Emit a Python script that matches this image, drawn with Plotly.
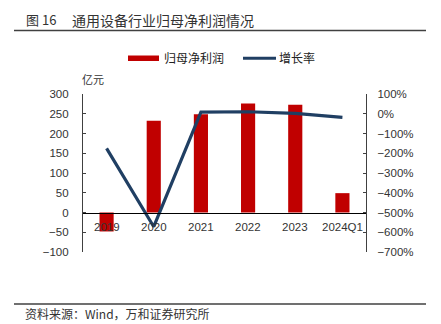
import plotly.graph_objects as go

# 通用设备行业归母净利润（亿元）及同比增长率（%）
categories = ["2019", "2020", "2021", "2022", "2023", "2024Q1"]
net_profit = [-48, 232, 249, 276, 273, 49]
growth_pct = [-175, -572, 8, 10, 2, -18]

W, H = 441, 324
L, R, T, B = 83, 366, 94, 252  # plot area in pixels

BAR_RED = "#C00000"
LINE_NAVY = "#203F63"
AXIS_COL = "#404040"
CJK = "Noto Sans CJK SC"
LATIN = "Liberation Sans, Arial, sans-serif"


def px_x(px):
    return (px - L) / (R - L)


def px_y(py):
    return (B - py) / (B - T)


fig = go.Figure()
fig.add_trace(go.Bar(
    x=categories, y=net_profit, name="归母净利润",
    marker=dict(color=BAR_RED, line=dict(width=0)),
    width=0.3, yaxis="y", showlegend=False,
))
fig.add_trace(go.Scatter(
    x=categories, y=growth_pct, name="增长率", mode="lines",
    line=dict(color=LINE_NAVY, width=3.2), yaxis="y2", showlegend=False,
))

fig.update_layout(
    width=W, height=H,
    margin=dict(l=L, r=W - R, t=T, b=H - B, pad=0),
    paper_bgcolor="white", plot_bgcolor="rgba(0,0,0,0)",
    font=dict(family=LATIN, size=11.5, color="#333333"),
    xaxis=dict(
        type="category", range=[-0.5, 5.5],
        anchor="free", position=0.25,
        showline=True, linecolor="#000000", linewidth=1,
        ticks="", showgrid=False, zeroline=False,
        showticklabels=False,
    ),
    yaxis=dict(
        range=[-100, 300], dtick=50, tick0=0,
        showline=True, linecolor=AXIS_COL, linewidth=1.2,
        ticks="inside", ticklen=3, tickcolor=AXIS_COL,
        showgrid=False, zeroline=False,
        ticklabelstandoff=11,
        tickfont=dict(family=LATIN, size=11.5, color="#333333"),
    ),
    yaxis2=dict(
        range=[-700, 100], dtick=100, tick0=0, ticksuffix="%",
        overlaying="y", side="right",
        showline=True, linecolor=AXIS_COL, linewidth=1.2,
        ticks="inside", ticklen=3, tickcolor=AXIS_COL,
        showgrid=False, zeroline=False,
        ticklabelstandoff=8,
        tickfont=dict(family=LATIN, size=11.5, color="#333333"),
    ),
    bargap=0.7,
)

shapes = []
annotations = []

# category labels sit just under the zero line, on top of the bars
for i, cat in enumerate(categories):
    annotations.append(dict(text=cat, xref="x", yref="y", x=i, y=0,
                            yanchor="top", yshift=-6, showarrow=False,
                            font=dict(family=LATIN, size=11.5, color="#333333")))

# header and footer rules
for py in (30.5, 304):
    shapes.append(dict(type="line", xref="paper", yref="paper",
                       x0=px_x(14), x1=px_x(426), y0=px_y(py), y1=px_y(py),
                       line=dict(color="#404040", width=1.3)))

# legend
shapes.append(dict(type="rect", xref="paper", yref="paper",
                   x0=px_x(128), x1=px_x(159), y0=px_y(61), y1=px_y(55.5),
                   fillcolor=BAR_RED, line=dict(width=0)))
shapes.append(dict(type="line", xref="paper", yref="paper",
                   x0=px_x(243), x1=px_x(276), y0=px_y(58.3), y1=px_y(58.3),
                   line=dict(color=LINE_NAVY, width=3)))
annotations.append(dict(text="归母净利润", xref="paper", yref="paper",
                        x=px_x(162), y=px_y(58), xanchor="left", yanchor="middle",
                        showarrow=False, font=dict(family=CJK, size=12, color="#222222")))
annotations.append(dict(text="增长率", xref="paper", yref="paper",
                        x=px_x(277), y=px_y(58), xanchor="left", yanchor="middle",
                        showarrow=False, font=dict(family=CJK, size=12, color="#222222")))

# unit label
annotations.append(dict(text="亿元", xref="paper", yref="paper",
                        x=px_x(80), y=px_y(79), xanchor="left", yanchor="middle",
                        showarrow=False, font=dict(family=CJK, size=11, color="#333333")))

# figure title: number and caption
annotations.append(dict(text="图 16", xref="paper", yref="paper",
                        x=px_x(24), y=px_y(20), xanchor="left", yanchor="middle",
                        showarrow=False, font=dict(family=CJK, size=13, color="#333333")))
annotations.append(dict(text="通用设备行业归母净利润情况", xref="paper", yref="paper",
                        x=px_x(70), y=px_y(20), xanchor="left", yanchor="middle",
                        showarrow=False, font=dict(family=CJK, size=14, color="#333333")))

# source note
annotations.append(dict(text="资料来源：Wind，万和证券研究所", xref="paper", yref="paper",
                        x=px_x(23), y=px_y(313), xanchor="left", yanchor="middle",
                        showarrow=False, font=dict(family=CJK, size=12, color="#333333")))

fig.update_layout(shapes=shapes, annotations=annotations)

fig.write_html("out.html")
